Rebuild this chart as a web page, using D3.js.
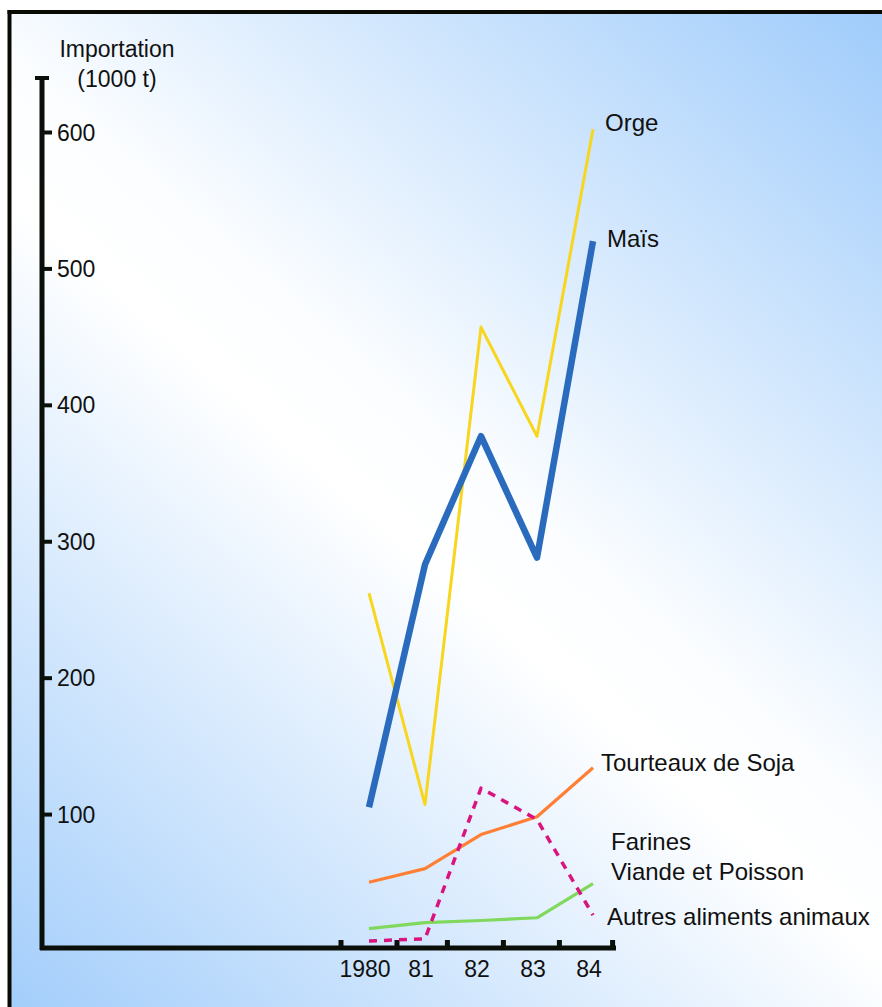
<!DOCTYPE html>
<html>
<head>
<meta charset="utf-8">
<script src="https://cdn.jsdelivr.net/npm/d3@7"></script>
<style>
  html, body { margin: 0; padding: 0; background: #fff; }
  svg { display: block; }
  text { font-family: "Liberation Sans", Arial, sans-serif; fill: #111; }
</style>
</head>
<body>
<svg id="chart" width="882" height="1007"></svg>
<script>
// ---- data ----
const years = [1980, 1981, 1982, 1983, 1984];
const yearLabels = ["1980", "81", "82", "83", "84"];
const xTickMarks = [1979.5, 1980.5, 1981.4, 1982.4, 1983.4, 1984.35];
const yTicks = [100, 200, 300, 400, 500, 600];

const orge   = [262, 107, 457, 377, 602];
const mais   = [105, 283, 377, 288, 520];
const soja   = [50, 60, 85, 98, 134];
const farines = [7, 8.5, 119, 96, 26];
const autres = [16, 20.5, 22, 24, 49];

const seriesNames = ["Orge", "Maïs", "Tourteaux de Soja", "Farines|Viande et Poisson", "Autres aliments animaux"];

// ---- layout / style ----
const W = 882, H = 1007;
const svg = d3.select("#chart");

const x = d3.scaleLinear().domain([1980, 1984]).range([369, 593]);
const y = d3.scaleLinear().domain([0, 600]).range([950.5, 132]);

// background gradient
const defs = svg.append("defs");
const grad = defs.append("linearGradient").attr("id", "bg")
  .attr("gradientUnits", "userSpaceOnUse")
  .attr("x1", 0).attr("y1", H).attr("x2", W).attr("y2", 0);
grad.append("stop").attr("offset", 0).attr("stop-color", "#a2cdfb");
grad.append("stop").attr("offset", 0.46).attr("stop-color", "#ffffff");
grad.append("stop").attr("offset", 0.54).attr("stop-color", "#fbfdff");
grad.append("stop").attr("offset", 1).attr("stop-color", "#9ecbfb");

svg.append("rect").attr("x", 0).attr("y", 0).attr("width", W).attr("height", H).attr("fill", "#fff");
svg.append("rect").attr("x", 9).attr("y", 12).attr("width", W - 9).attr("height", H - 12).attr("fill", "url(#bg)");
// frame (top and left)
svg.append("line").attr("x1", 7.5).attr("x2", W).attr("y1", 12).attr("y2", 12)
  .attr("stroke", "#0a0a05").attr("stroke-width", 4);
svg.append("line").attr("x1", 9.5).attr("x2", 9.5).attr("y1", 10).attr("y2", H)
  .attr("stroke", "#0a0a05").attr("stroke-width", 4);

// y axis
const axisColor = "#0b0f0a";
svg.append("line").attr("x1", 42).attr("x2", 42).attr("y1", 76).attr("y2", 950)
  .attr("stroke", axisColor).attr("stroke-width", 5);
svg.append("line").attr("x1", 35).attr("x2", 49).attr("y1", 78).attr("y2", 78)
  .attr("stroke", axisColor).attr("stroke-width", 4);

const yAxis = d3.axisRight(y).tickValues(yTicks).tickSize(10).tickPadding(5).tickFormat(d3.format("d"));
const gy = svg.append("g").attr("transform", "translate(42,0)").call(yAxis);
gy.select(".domain").remove();
gy.selectAll(".tick line").attr("stroke", axisColor).attr("stroke-width", 4);
gy.selectAll(".tick text").attr("font-size", 23).attr("fill", "#111")
  .attr("font-family", "Liberation Sans, Arial, sans-serif").attr("dy", "0.35em");

// x axis
svg.append("line").attr("x1", 40).attr("x2", 616).attr("y1", 948).attr("y2", 948)
  .attr("stroke", axisColor).attr("stroke-width", 5);
svg.append("g").selectAll("line").data(xTickMarks).join("line")
  .attr("x1", d => x(d)).attr("x2", d => x(d))
  .attr("y1", 940).attr("y2", 948)
  .attr("stroke", axisColor).attr("stroke-width", 5);

svg.append("g").selectAll("text").data(years).join("text")
  .attr("x", d => x(d) - 4).attr("y", 977)
  .attr("text-anchor", "middle").attr("font-size", 23)
  .text((d, i) => yearLabels[i]);

// axis title
const title = svg.append("text").attr("font-size", 23).attr("text-anchor", "middle");
title.append("tspan").attr("x", 117).attr("y", 57).text("Importation");
title.append("tspan").attr("x", 117).attr("y", 87).text("(1000 t)");

// series
const series = [
  { name: seriesNames[0], values: orge,    color: "#f8d61e", width: 3,   dash: null },
  { name: seriesNames[1], values: mais,    color: "#2a6bbd", width: 6.5, dash: null },
  { name: seriesNames[2], values: soja,    color: "#ff8035", width: 3.2, dash: null },
  { name: seriesNames[4], values: autres,  color: "#80d85c", width: 3.2, dash: null },
  { name: seriesNames[3], values: farines, color: "#d8157e", width: 3.5, dash: "8,7" }
];

series.forEach(s => {
  const line = d3.line().x((d, i) => x(years[i])).y(d => y(d)).curve(d3.curveLinear);
  svg.append("path").datum(s.values)
    .attr("d", line)
    .attr("fill", "none")
    .attr("stroke", s.color)
    .attr("stroke-width", s.width)
    .attr("stroke-linejoin", "round")
    .attr("stroke-dasharray", s.dash);
});

// series labels
const labelPos = [
  { text: seriesNames[0], x: 605, y: 131 },
  { text: seriesNames[1], x: 607, y: 247 },
  { text: seriesNames[2], x: 601, y: 771 },
  { text: seriesNames[3].split("|")[0], x: 611, y: 850 },
  { text: seriesNames[3].split("|")[1], x: 611, y: 880 },
  { text: seriesNames[4], x: 607, y: 925 }
];
svg.append("g").selectAll("text").data(labelPos).join("text")
  .attr("x", d => d.x).attr("y", d => d.y)
  .attr("font-size", 24)
  .text(d => d.text);
</script>
</body>
</html>
